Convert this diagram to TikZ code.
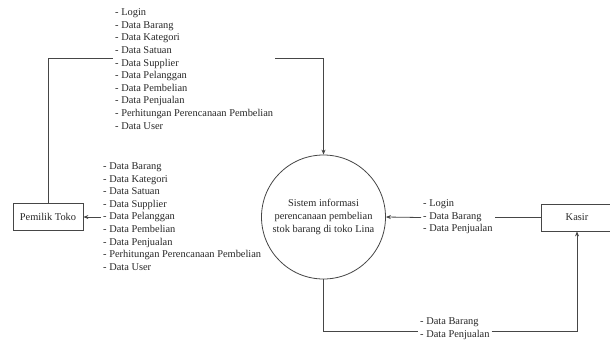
\documentclass[tikz,border=0pt]{standalone}
\usepackage{fontspec}
\setmainfont{Liberation Serif}
\usetikzlibrary{arrows.meta}
\definecolor{ln}{RGB}{70,70,70}
\definecolor{tx}{RGB}{40,40,40}
\begin{document}
\begin{tikzpicture}[x=1pt,y=-1pt,
  txt/.style={font=\fontsize{10.4}{12.6}\selectfont, text=tx},
  lbl/.style={txt, align=left, inner sep=2pt},
  ent/.style={txt, draw=ln, line width=0.8pt, minimum height=27pt, inner sep=0pt},
  proc/.style={draw=ln, line width=0.8pt, circle, minimum size=124pt, inner sep=0pt, align=center, font=\fontsize{10.4}{13}\selectfont, text=tx},
  conn/.style={draw=ln, line width=0.8pt},
  flow/.style={conn, -{Stealth[length=5pt,width=4pt]}}]
\useasboundingbox (0,0) rectangle (610,341);
\fill[white] (0,0) rectangle (610,341);

\node[ent, minimum width=70pt] (pemilik) at (48,217) {Pemilik Toko};
\node[ent, minimum width=72pt] (kasir) at (577,217.5) {Kasir};
\node[proc] (sys) at (323.5,217) {Sistem informasi\\perencanaan pembelian\\stok barang di toko Lina};

\node[lbl, anchor=west] (toplist) at (113,69) {- Login\\- Data Barang\\- Data Kategori\\- Data Satuan\\- Data Supplier\\- Data Pelanggan\\- Data Pembelian\\- Data Penjualan\\- Perhitungan Perencanaan Pembelian\\- Data User};
\node[lbl, anchor=west] (leftlist) at (101,216.5) {- Data Barang\\- Data Kategori\\- Data Satuan\\- Data Supplier\\- Data Pelanggan\\- Data Pembelian\\- Data Penjualan\\- Perhitungan Perencanaan Pembelian\\- Data User};
\node[lbl, anchor=west] (kasirlist) at (421,217) {- Login\\- Data Barang\\- Data Penjualan};
\node[lbl, anchor=west] (botlist) at (418,328.5) {- Data Barang\\- Data Penjualan};

\draw[conn] (pemilik.north) |- (toplist.west |- 0,58);
\draw[flow] (toplist.east |- 0,58) -| (sys.north);
\draw[flow] (leftlist.west |- pemilik.east) -- (pemilik.east);
\draw[conn] (kasir.west) -- (kasirlist.east |- kasir.west);
\draw[flow] (kasirlist.west |- kasir.west) -- (sys.east);
\draw[conn] (sys.south) |- (botlist.west |- 0,331);
\draw[flow] (botlist.east |- 0,331) -| (kasir.south);
\end{tikzpicture}
\end{document}
